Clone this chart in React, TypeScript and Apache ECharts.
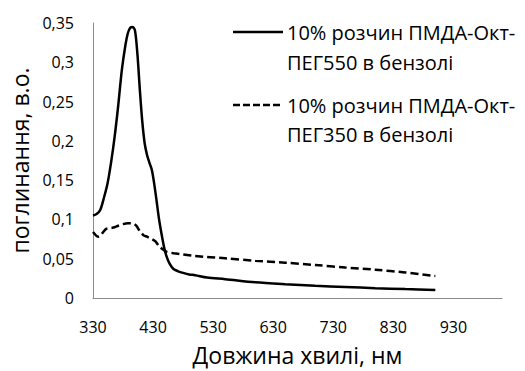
import React, { useEffect, useRef } from "react";
import * as echarts from "echarts";

const xTickLabels = [330, 430, 530, 630, 730, 830, 930];
const yTickLabels = [0, 0.05, 0.1, 0.15, 0.2, 0.25, 0.3, 0.35];

const solidName = "10% розчин ПМДА-Окт-ПЕГ550 в бензолі";
const solidX = [330, 336, 342, 348, 354, 360, 366, 372, 378, 384, 388, 392, 396, 400, 404, 408, 412, 416, 420, 424, 428, 432, 436, 440, 444, 448, 452, 458, 464, 472, 480, 490, 500, 520, 550, 600, 650, 700, 750, 800, 850, 900];
const solidY = [0.105, 0.107, 0.112, 0.127, 0.145, 0.172, 0.205, 0.245, 0.29, 0.322, 0.337, 0.344, 0.345, 0.34, 0.31, 0.265, 0.225, 0.197, 0.182, 0.172, 0.163, 0.145, 0.123, 0.1, 0.082, 0.066, 0.054, 0.043, 0.037, 0.034, 0.032, 0.03, 0.029, 0.026, 0.024, 0.02, 0.0175, 0.0155, 0.014, 0.0125, 0.0113, 0.0103];

const dashedName = "10% розчин ПМДА-Окт-ПЕГ350 в бензолі";
const dashedX = [330, 336, 340, 346, 352, 360, 366, 372, 380, 388, 396, 402, 408, 414, 420, 428, 434, 440, 446, 452, 464, 480, 500, 550, 600, 650, 700, 750, 800, 850, 900];
const dashedY = [0.084, 0.079, 0.078, 0.083, 0.088, 0.089, 0.09, 0.092, 0.094, 0.095, 0.095, 0.092, 0.085, 0.08, 0.078, 0.075, 0.072, 0.066, 0.062, 0.059, 0.057, 0.0555, 0.0535, 0.0505, 0.0475, 0.045, 0.042, 0.0388, 0.036, 0.0325, 0.028];

const legendLines = ["10% розчин ПМДА-Окт-", "ПЕГ550 в бензолі", "10% розчин ПМДА-Окт-", "ПЕГ350 в бензолі"];

const FONT = "'Open Sans', 'Noto Sans', sans-serif";

export default function App() {
  const ref = useRef<HTMLDivElement>(null);
  useEffect(() => {
    if (!ref.current) return;
    const chart = echarts.init(ref.current, undefined, { renderer: "svg" });
    const fmtY = (v: number) => String(Math.round(v * 100) / 100).replace(".", ",");
    const legendFont = `20px ${FONT}`;
    chart.setOption({
      animation: false,
      backgroundColor: "#fff",
      textStyle: { fontFamily: FONT },
      grid: { left: 93, right: 23, top: 23, bottom: 65, containLabel: false },
      xAxis: {
        type: "value",
        min: 330,
        max: 1011,
        name: "Довжина хвилі, нм",
        nameLocation: "middle",
        nameGap: 45,
        nameTextStyle: { fontSize: 23, color: "#000", fontFamily: FONT },
        axisLine: { show: true, lineStyle: { color: "#8c8c8c", width: 1 } },
        axisTick: { show: false },
        splitLine: { show: false },
        axisLabel: {
          customValues: xTickLabels,
          fontSize: 16,
          color: "#000",
          margin: 21,
          fontFamily: FONT,
        },
      },
      yAxis: {
        type: "value",
        min: 0,
        max: 0.35,
        interval: 0.05,
        name: "поглинання, в.о.",
        nameLocation: "middle",
        nameGap: 61,
        nameTextStyle: { fontSize: 23, color: "#000", fontFamily: FONT },
        axisLine: { show: true, lineStyle: { color: "#8c8c8c", width: 1 } },
        axisTick: { show: false },
        splitLine: { show: false },
        axisLabel: {
          customValues: yTickLabels,
          formatter: fmtY,
          fontSize: 16,
          color: "#000",
          margin: 19,
          fontFamily: FONT,
        },
      },
      series: [
        {
          name: solidName,
          type: "line",
          data: solidX.map((x, i) => [x, solidY[i]]),
          showSymbol: false,
          symbol: "none",
          smooth: 0.3,
          lineStyle: { color: "#000", width: 2.5 },
        },
        {
          name: dashedName,
          type: "line",
          data: dashedX.map((x, i) => [x, dashedY[i]]),
          showSymbol: false,
          symbol: "none",
          smooth: 0.3,
          lineStyle: { color: "#000", width: 2.5, type: [8, 4] },
        },
      ],
      graphic: [
        { type: "line", shape: { x1: 233, y1: 32, x2: 283, y2: 32 }, style: { stroke: "#000", lineWidth: 2.5 } },
        { type: "text", x: 287, y: 32, style: { text: legendLines[0], font: legendFont, fill: "#000", verticalAlign: "middle" } },
        { type: "text", x: 287, y: 62, style: { text: legendLines[1], font: legendFont, fill: "#000", verticalAlign: "middle" } },
        { type: "line", shape: { x1: 233, y1: 105, x2: 283, y2: 105 }, style: { stroke: "#000", lineWidth: 2.5, lineDash: [7, 3] } },
        { type: "text", x: 287, y: 105, style: { text: legendLines[2], font: legendFont, fill: "#000", verticalAlign: "middle" } },
        { type: "text", x: 287, y: 134, style: { text: legendLines[3], font: legendFont, fill: "#000", verticalAlign: "middle" } },
      ],
    });
    return () => chart.dispose();
  }, []);
  return <div ref={ref} style={{ width: 525, height: 371, position: "absolute", left: 0, top: 0 }} />;
}
